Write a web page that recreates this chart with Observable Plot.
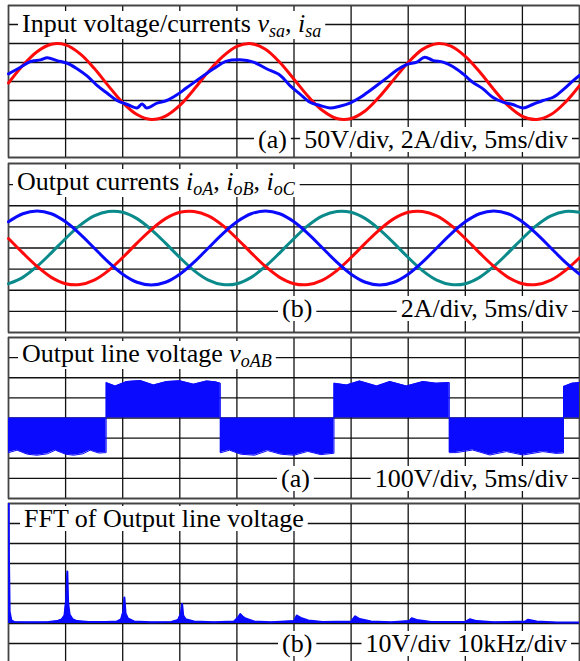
<!DOCTYPE html>
<html><head><meta charset="utf-8">
<script src="https://cdn.jsdelivr.net/npm/d3@7"></script>
<script src="https://cdn.jsdelivr.net/npm/@observablehq/plot@0.6"></script>
<style>
html,body{margin:0;padding:0;background:#fff;overflow:hidden;}
#wrap{position:relative;width:580px;height:661px;overflow:hidden;background:#fff;}
#wrap svg{position:absolute;left:0;}
</style></head><body><div id="wrap"></div>
<script>
// ---- grid divisions ----
const xDivs = [0,1,2,3,4,5,6,7,8,9,10];
const yDivs = [-4,-3,-2,-1,0,1,2,3,4];
const yDivsFft = [-2,-1,0,1,2,3,4,5,6];

// ---- panel 1: input voltage v_sa (red) and current i_sa (blue), in divisions ----
const vsaT = [0,0.25,0.5,0.75,1,1.25,1.5,1.75,2,2.25,2.5,2.75,3,3.25,3.5,3.75,4,4.25,4.5,4.75,5,5.25,5.5,5.75,6,6.25,6.5,6.75,7,7.25,7.5,7.75,8,8.25,8.5,8.75,9,9.25,9.5,9.75,10];
const vsa  = [-0.08,0.84,1.57,1.96,1.93,1.47,0.70,-0.23,-1.11,-1.74,-2.0,-1.82,-1.26,-0.41,0.52,1.31,1.85,1.99,1.70,1.01,0.12,-0.79,-1.53,-1.95,-1.95,-1.54,-0.79,0.11,1.00,1.69,1.99,1.86,1.32,0.51,-0.42,-1.27,-1.83,-2.0,-1.74,-1.10,-0.22];
const isaT = [0,0.21,0.38,0.56,0.68,0.85,1.03,1.20,1.38,1.55,1.73,1.90,2.08,2.25,2.34,2.42,2.60,2.77,2.95,3.12,3.36,3.59,3.82,4.06,4.29,4.52,4.76,4.93,5.10,5.28,5.45,5.63,5.80,5.98,6.15,6.27,6.45,6.62,6.79,6.97,7.15,7.29,7.44,7.61,7.78,7.96,8.13,8.31,8.48,8.66,8.83,9.01,9.18,9.36,9.54,9.71,9.89,10];
const isa  = [0.40,0.75,1.05,1.14,1.25,1.10,0.96,0.67,0.28,-0.20,-0.62,-1.0,-1.21,-1.39,-1.18,-1.39,-1.14,-1.0,-0.70,-0.33,0.19,0.67,1.07,1.14,1.02,0.67,0.32,-0.22,-0.65,-1.09,-1.26,-1.39,-1.30,-1.14,-0.86,-0.61,-0.21,0.18,0.58,0.89,1.02,1.28,1.10,1.02,0.79,0.40,-0.04,-0.39,-0.83,-1.09,-1.21,-1.39,-1.21,-1.0,-0.83,-0.44,0.05,0.32];

// ---- panel 2: output currents (divisions) ----
const ioT = vsaT;
const ioA = [0.45,-0.23,-0.87,-1.39,-1.69,-1.73,-1.52,-1.07,-0.45,0.23,0.87,1.39,1.69,1.73,1.52,1.07,0.45,-0.23,-0.87,-1.39,-1.69,-1.73,-1.52,-1.07,-0.45,0.23,0.87,1.39,1.69,1.73,1.52,1.07,0.45,-0.23,-0.87,-1.39,-1.69,-1.73,-1.52,-1.07,-0.46];
const ioB = [1.24,1.62,1.75,1.62,1.24,0.67,0.0,-0.67,-1.24,-1.62,-1.75,-1.62,-1.24,-0.67,0.0,0.67,1.24,1.62,1.75,1.62,1.24,0.67,0.0,-0.67,-1.24,-1.62,-1.75,-1.62,-1.24,-0.67,0.0,0.67,1.24,1.62,1.75,1.62,1.24,0.67,0.0,-0.67,-1.24];
const ioC = [-1.69,-1.39,-0.87,-0.23,0.45,1.07,1.52,1.73,1.69,1.39,0.87,0.23,-0.45,-1.07,-1.52,-1.73,-1.69,-1.39,-0.87,-0.23,0.45,1.07,1.52,1.73,1.69,1.39,0.87,0.23,-0.45,-1.07,-1.52,-1.73,-1.69,-1.39,-0.87,-0.23,0.45,1.07,1.52,1.73,1.69];

// ---- panel 3: output line voltage envelope (divisions) ----
const voT = [0,0.15,0.33,0.5,0.68,0.82,1.0,1.14,1.3,1.43,1.58,1.71,
  1.71,1.87,2.07,2.31,2.54,2.77,3.0,3.24,3.47,3.62,3.71,
  3.71,3.87,4.07,4.31,4.54,4.77,5.0,5.24,5.47,5.7,
  5.7,5.92,6.15,6.45,6.68,6.97,7.26,7.49,7.72,
  7.72,7.84,8.13,8.43,8.72,9.01,9.36,9.59,9.72,
  9.72,9.87,10];
const voAB = [-1.72,-1.6,-1.8,-1.85,-1.78,-1.6,-1.8,-1.85,-1.78,-1.6,-1.74,-1.72,
  1.76,1.59,1.81,1.86,1.64,1.81,1.85,1.68,1.84,1.8,1.73,
  -1.73,-1.6,-1.8,-1.85,-1.62,-1.8,-1.85,-1.66,-1.82,-1.75,
  1.73,1.64,1.84,1.59,1.81,1.59,1.81,1.73,1.76,
  -1.72,-1.72,-1.59,-1.84,-1.67,-1.84,-1.67,-1.76,-1.74,
  1.56,1.73,1.76];

// ---- panel 4: FFT of output line voltage (x: 10kHz/div, y: divisions above baseline) ----
const fftF = [0,0.008,0.02,0.05,0.1,0.3,0.5,0.7,0.85,0.93,0.98,1.01,1.03,1.045,1.07,1.12,1.2,1.4,1.7,1.9,1.97,2.01,2.03,2.05,2.09,2.2,2.5,2.85,2.97,3.02,3.04,3.06,3.1,3.25,3.6,3.95,4.02,4.06,4.1,4.15,4.3,4.6,5.0,5.05,5.12,5.25,5.5,6.0,6.07,6.15,6.35,6.7,7.02,7.06,7.15,7.4,8.0,8.08,8.2,8.5,9.05,9.1,9.25,9.6,10];
const fftV = [9,3.3,0.6,0.15,0.08,0.06,0.06,0.08,0.12,0.2,0.4,1.2,2.6,1.0,0.45,0.22,0.12,0.07,0.07,0.1,0.2,0.6,1.3,0.5,0.25,0.1,0.06,0.08,0.18,0.5,0.98,0.4,0.22,0.1,0.06,0.1,0.3,0.47,0.35,0.25,0.1,0.06,0.12,0.4,0.28,0.15,0.07,0.1,0.36,0.22,0.1,0.06,0.12,0.26,0.18,0.08,0.08,0.21,0.12,0.06,0.1,0.19,0.1,0.05,0.05];

const RED = "#ff0a0a", BLUE = "#0a0aff", TEAL = "#0a8a8a";
const FONT = "'Liberation Serif','Times New Roman',serif";

function zip(t, v) { return t.map((x, i) => ({x, y: v[i]})); }

function panel(opts) {
  return Plot.plot({
    width: 580, height: opts.height,
    marginLeft: 8, marginRight: 1, marginTop: opts.mt, marginBottom: opts.mb,
    x: {domain: [0, 10], axis: null},
    y: {domain: opts.yDomain, axis: null},
    style: {background: "white"},
    marks: [
      Plot.gridX(xDivs, {stroke: "#111", strokeOpacity: 1, strokeWidth: 1.3}),
      Plot.gridY(opts.yTicks, {stroke: "#111", strokeOpacity: 1, strokeWidth: 1.3}),
      Plot.frame({stroke: "#444", strokeWidth: 1.5}),
      ...opts.marks
    ]
  });
}

const wrap = document.getElementById("wrap");
function place(svg, top) { svg.style.top = top + "px"; wrap.appendChild(svg); return svg; }

function label(svg, x, y, parts, anchor) {
  const s = d3.select(svg);
  const g = s.append("g");
  const rect = g.append("rect").attr("fill", "white");
  const t = g.append("text").attr("x", x).attr("y", y)
    .style("font-family", FONT).style("font-size", "26px").style("fill", "#000")
    .attr("text-anchor", anchor || "start");
  let shift = 0;
  parts.forEach(p => {
    const ts = t.append("tspan").text(p.t);
    if (p.i) ts.style("font-style", "italic");
    const target = p.sub ? 5 : 0;
    if (target !== shift) { ts.attr("dy", target - shift); shift = target; }
    if (p.sub) ts.style("font-size", "18px");
  });
  const b = t.node().getBBox();
  rect.attr("x", b.x - 4).attr("y", b.y + 2).attr("width", b.width + 8).attr("height", b.height - 4);
}

// Panel 1
const p1 = place(panel({height: 160, mt: 5, mb: 3, yDomain: [-4, 4], yTicks: yDivs, marks: [
  Plot.line(zip(vsaT, vsa), {x: "x", y: "y", stroke: RED, strokeWidth: 3, curve: "catmull-rom"}),
  Plot.line(zip(isaT, isa), {x: "x", y: "y", stroke: BLUE, strokeWidth: 3, curve: "catmull-rom"})
]}), 0);
label(p1, 22, 32, [{t: "Input voltage/currents "}, {t: "v", i: 1}, {t: "sa", i: 1, sub: 1}, {t: ", "}, {t: "i", i: 1}, {t: "sa", i: 1, sub: 1}]);
label(p1, 258, 148, [{t: "(a)"}]);
label(p1, 568, 148, [{t: "50V/div, 2A/div, 5ms/div"}], "end");

// Panel 2
const p2 = place(panel({height: 175, mt: 3, mb: 3, yDomain: [-4, 4], yTicks: yDivs, marks: [
  Plot.line(zip(ioT, ioC), {x: "x", y: "y", stroke: TEAL, strokeWidth: 3, curve: "catmull-rom"}),
  Plot.line(zip(ioT, ioA), {x: "x", y: "y", stroke: RED, strokeWidth: 3, curve: "catmull-rom"}),
  Plot.line(zip(ioT, ioB), {x: "x", y: "y", stroke: BLUE, strokeWidth: 3, curve: "catmull-rom"})
]}), 160);
label(p2, 17, 30, [{t: "Output currents "}, {t: "i", i: 1}, {t: "oA", i: 1, sub: 1}, {t: ", "}, {t: "i", i: 1}, {t: "oB", i: 1, sub: 1}, {t: ", "}, {t: "i", i: 1}, {t: "oC", i: 1, sub: 1}]);
label(p2, 282, 157, [{t: "(b)"}]);
label(p2, 568, 157, [{t: "2A/div, 5ms/div"}], "end");

// Panel 3
const p3 = place(panel({height: 166, mt: 2, mb: 3, yDomain: [-4, 4], yTicks: yDivs, marks: [
  Plot.areaY(zip(voT, voAB), {x: "x", y1: 0, y2: "y", fill: BLUE, fillOpacity: 1}),
  Plot.line(zip(voT, voAB), {x: "x", y: "y", stroke: BLUE, strokeWidth: 1})
]}), 335);
label(p3, 22, 27, [{t: "Output line voltage "}, {t: "v", i: 1}, {t: "oAB", i: 1, sub: 1}]);
label(p3, 281, 152, [{t: "(a)"}]);
label(p3, 568, 152, [{t: "100V/div, 5ms/div"}], "end");

// Panel 4
const p4 = place(panel({height: 162, mt: 2, mb: 0, yDomain: [-2, 6], yTicks: yDivsFft, marks: [
  Plot.areaY(zip(fftF, fftV), {x: "x", y1: 0, y2: "y", fill: BLUE, clip: true}),
  Plot.line(zip(fftF, fftV), {x: "x", y: "y", stroke: BLUE, strokeWidth: 2, clip: true})
]}), 501);
label(p4, 24, 26, [{t: "FFT of Output line voltage"}]);
label(p4, 282, 151, [{t: "(b)"}]);
label(p4, 567, 151, [{t: "10V/div 10kHz/div"}], "end");
</script>
</body></html>
